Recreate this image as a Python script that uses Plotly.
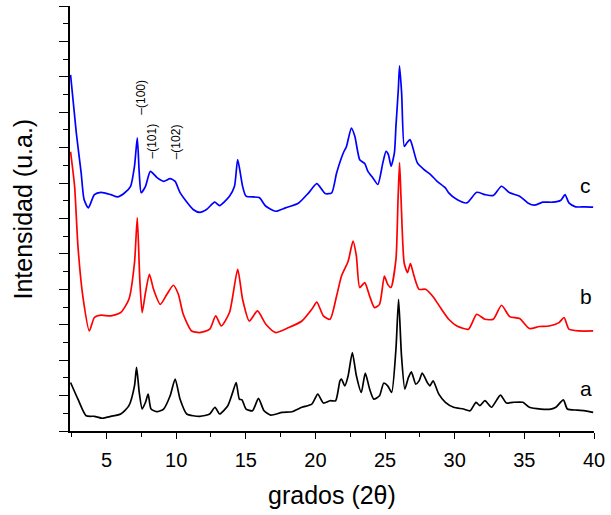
import plotly.graph_objects as go

# --- XRD patterns (2θ in degrees, intensity in arbitrary stacked units) ---
two_theta_a = [2.42, 2.95, 3.54, 4.13, 4.72, 5.31, 6.02, 6.61, 7.01, 7.16, 7.35, 7.56, 7.80, 7.99,
               8.20, 8.63, 9.10, 9.57, 9.93, 10.28, 10.76, 11.70, 12.41, 12.79, 13.12, 13.71,
               14.06, 14.31, 14.54, 14.73, 15.02, 15.48, 15.91, 16.31, 16.79, 17.61, 18.32,
               19.03, 19.74, 20.17, 20.57, 21.05, 21.45, 21.76, 21.87, 22.11, 22.35, 22.65,
               22.94, 23.29, 23.58, 23.89, 24.19, 24.60, 24.90, 25.19, 25.47, 25.78, 25.97,
               26.18, 26.42, 26.68, 26.89, 27.20, 27.44, 27.67, 28.03, 28.22, 28.45, 28.86,
               29.33, 29.92, 30.63, 31.10, 31.53, 31.81, 32.17, 32.64, 33.28, 33.71, 34.18,
               34.89, 35.36, 36.19, 36.90, 37.26, 37.80, 38.09, 38.80, 39.39, 39.94]
intensity_a = [2.74, 1.80, 0.86, 0.83, 0.72, 0.83, 0.96, 1.43, 2.55, 3.59, 2.18, 1.24, 1.62, 2.08,
               1.24, 1.09, 1.24, 1.99, 2.93, 1.80, 0.96, 0.83, 0.96, 1.34, 0.96, 1.43,
               2.18, 2.74, 1.80, 1.76, 1.24, 1.14, 1.84, 1.14, 0.90, 1.05, 1.09,
               1.34, 1.52, 2.08, 1.58, 1.71, 1.71, 2.83, 2.93, 2.55, 3.12, 4.43,
               3.12, 2.18, 3.27, 2.37, 1.80, 1.99, 2.70, 2.55, 2.18, 4.62, 7.44,
               4.24, 2.37, 3.03, 3.34, 2.65, 2.83, 3.27, 2.74, 2.55, 2.83, 2.08,
               1.62, 1.34, 1.24, 1.14, 1.62, 1.43, 1.71, 1.34, 2.03, 1.58, 1.62,
               1.62, 1.34, 1.24, 1.24, 1.34, 1.76, 1.24, 1.18, 1.14, 1.05]

two_theta_b = [2.42, 2.71, 2.95, 3.30, 3.77, 4.13, 4.60, 5.31, 6.02, 6.61, 7.01, 7.21, 7.39, 7.56,
               7.80, 8.08, 8.38, 8.86, 9.34, 9.80, 10.16, 10.51, 11.11, 11.70, 12.41, 12.84,
               13.24, 13.83, 14.42, 14.77, 15.25, 15.84, 16.44, 17.15, 18.09, 19.03, 19.74,
               20.10, 20.57, 21.05, 21.52, 21.87, 22.35, 22.70, 22.94, 23.18, 23.54, 23.89,
               24.24, 24.60, 24.95, 25.19, 25.42, 25.78, 25.93, 26.04, 26.15, 26.37, 26.61,
               26.82, 27.08, 27.44, 27.91, 28.50, 28.97, 29.57, 30.16, 30.99, 31.58, 32.17,
               32.77, 33.36, 33.95, 34.66, 35.36, 36.07, 36.78, 37.49, 37.85, 38.20, 38.91, 39.94]
intensity_b = [15.77, 13.82, 10.44, 7.62, 5.65, 6.41, 6.54, 6.50, 6.69, 7.44, 9.50, 12.04, 8.56, 6.69,
               7.81, 8.85, 8.00, 7.15, 7.72, 8.23, 7.72, 6.59, 5.65, 5.56, 5.75, 6.50,
               5.93, 6.69, 9.13, 7.44, 6.21, 6.78, 6.03, 5.56, 5.84, 6.21, 6.87,
               7.28, 6.50, 6.31, 7.62, 8.75, 9.59, 10.72, 9.88, 8.10, 8.38, 7.62,
               6.97, 7.15, 8.75, 8.28, 8.10, 9.69, 13.07, 15.15, 13.07, 9.50, 8.94,
               9.46, 8.75, 8.00, 8.00, 7.53, 6.97, 6.31, 5.93, 5.75, 6.59, 6.31,
               6.31, 7.10, 6.46, 6.35, 5.79, 5.90, 5.93, 6.12, 6.41, 5.75, 5.65, 5.65]

two_theta_c = [2.42, 2.83, 3.18, 3.39, 3.70, 4.13, 4.60, 5.31, 5.79, 6.25, 6.73, 7.01, 7.21, 7.35,
               7.49, 7.80, 8.15, 8.63, 9.10, 9.57, 9.93, 10.28, 11.22, 11.70, 12.18, 12.77,
               13.12, 13.83, 14.19, 14.42, 14.77, 15.02, 15.96, 16.44, 17.15, 17.86, 18.80,
               19.51, 20.10, 20.70, 21.17, 21.52, 22.00, 22.23, 22.58, 22.83, 23.18, 23.54,
               23.77, 24.13, 24.48, 24.84, 25.07, 25.24, 25.43, 25.67, 25.78, 25.95, 26.04,
               26.19, 26.38, 26.56, 26.79, 26.97, 27.32, 27.80, 28.27, 28.74, 29.33, 29.57,
               30.16, 30.87, 31.58, 32.17, 32.77, 33.36, 33.95, 34.66, 35.25, 35.72, 36.32,
               37.03, 37.62, 37.92, 38.20, 38.68, 39.39, 39.94]
intensity_c = [20.11, 16.85, 14.59, 13.07, 12.60, 13.35, 13.48, 13.35, 13.22, 13.41, 13.82, 14.95, 16.55, 14.59,
               13.46, 13.82, 14.66, 14.31, 14.10, 14.25, 14.10, 13.46, 12.51, 12.35, 12.51, 12.92,
               12.73, 13.26, 13.82, 15.32, 13.82, 13.26, 13.18, 12.69, 12.41, 12.60, 12.88,
               13.45, 13.97, 13.41, 13.45, 14.57, 15.70, 16.07, 17.11, 16.64, 15.32, 15.10,
               14.66, 14.29, 13.92, 15.14, 15.79, 15.61, 14.95, 15.70, 17.20, 19.27, 20.62,
               19.08, 16.07, 16.26, 16.45, 16.07, 15.14, 14.76, 14.48, 14.10, 13.73, 13.45,
               13.07, 12.88, 13.48, 13.35, 13.30, 13.82, 13.45, 13.26, 12.88, 12.75, 12.92,
               12.92, 13.03, 13.35, 12.88, 12.66, 12.66, 12.64]

series_names = ["a", "b", "c"]
series_colors = ["#000000", "#ff0000", "#0000ff"]
label_positions = [(39.39, 2.41), (39.39, 7.58), (39.39, 13.89)]

# Miller indices of the reflections marked on pattern c
hkl_labels = ["–(100)", "–(101)", "–(102)"]
hkl_positions = [(7.51, 18.85), (8.27, 16.35), (10.05, 16.35)]

x_ticks = [5, 10, 15, 20, 25, 30, 35, 40]

FONT = "Arial, Liberation Sans, sans-serif"

fig = go.Figure()
for xs, ys, name, color in zip([two_theta_a, two_theta_b, two_theta_c],
                               [intensity_a, intensity_b, intensity_c],
                               series_names, series_colors):
    fig.add_trace(go.Scatter(x=xs, y=ys, mode="lines", name=name,
                             line=dict(color=color, width=1.7, shape="spline", smoothing=0.6)))

annotations = []
for name, (lx, ly) in zip(series_names, label_positions):
    annotations.append(dict(x=lx, y=ly, xref="x", yref="y", text=name, showarrow=False,
                            font=dict(family=FONT, size=21, color="black"),
                            xanchor="center", yanchor="middle"))
for txt, (hx, hy) in zip(hkl_labels, hkl_positions):
    annotations.append(dict(x=hx, y=hy, xref="x", yref="y", text=txt, showarrow=False,
                            textangle=-90, font=dict(family=FONT, size=12, color="black"),
                            xanchor="center", yanchor="middle"))

# axis titles
annotations.append(dict(x=0.5, y=-0.15, xref="paper", yref="paper", text="grados (2θ)",
                        showarrow=False, font=dict(family=FONT, size=25, color="black"),
                        xanchor="center", yanchor="middle"))
annotations.append(dict(x=-0.089, y=0.522, xref="paper", yref="paper", text="Intensidad (u.a.)",
                        showarrow=False, textangle=-90,
                        font=dict(family=FONT, size=25, color="black"),
                        xanchor="center", yanchor="middle"))

fig.update_layout(
    width=611, height=515,
    margin=dict(l=70, r=14, t=6, b=84),
    plot_bgcolor="white", paper_bgcolor="white",
    showlegend=False,
    annotations=annotations,
    xaxis=dict(range=[2.38, 40], tickvals=x_ticks, ticks="outside", ticklen=6, tickwidth=1.3,
               tickcolor="black", showline=True, linecolor="black", linewidth=1.5,
               showgrid=False, zeroline=False, ticklabelstandoff=4,
               tickfont=dict(family=FONT, size=20, color="black"),
               minor=dict(dtick=2.5, tick0=0, ticks="outside", ticklen=4, tickwidth=1.2,
                          tickcolor="black", showgrid=False)),
    yaxis=dict(range=[0, 24], tick0=0, dtick=2, ticks="outside", ticklen=9, tickwidth=1.3,
               tickcolor="black", showline=True, linecolor="black", linewidth=1.5,
               showgrid=False, zeroline=False, showticklabels=False,
               minor=dict(dtick=1, tick0=0, ticks="outside", ticklen=5, tickwidth=1.2,
                          tickcolor="black", showgrid=False)),
)

fig.write_html("out.html")
